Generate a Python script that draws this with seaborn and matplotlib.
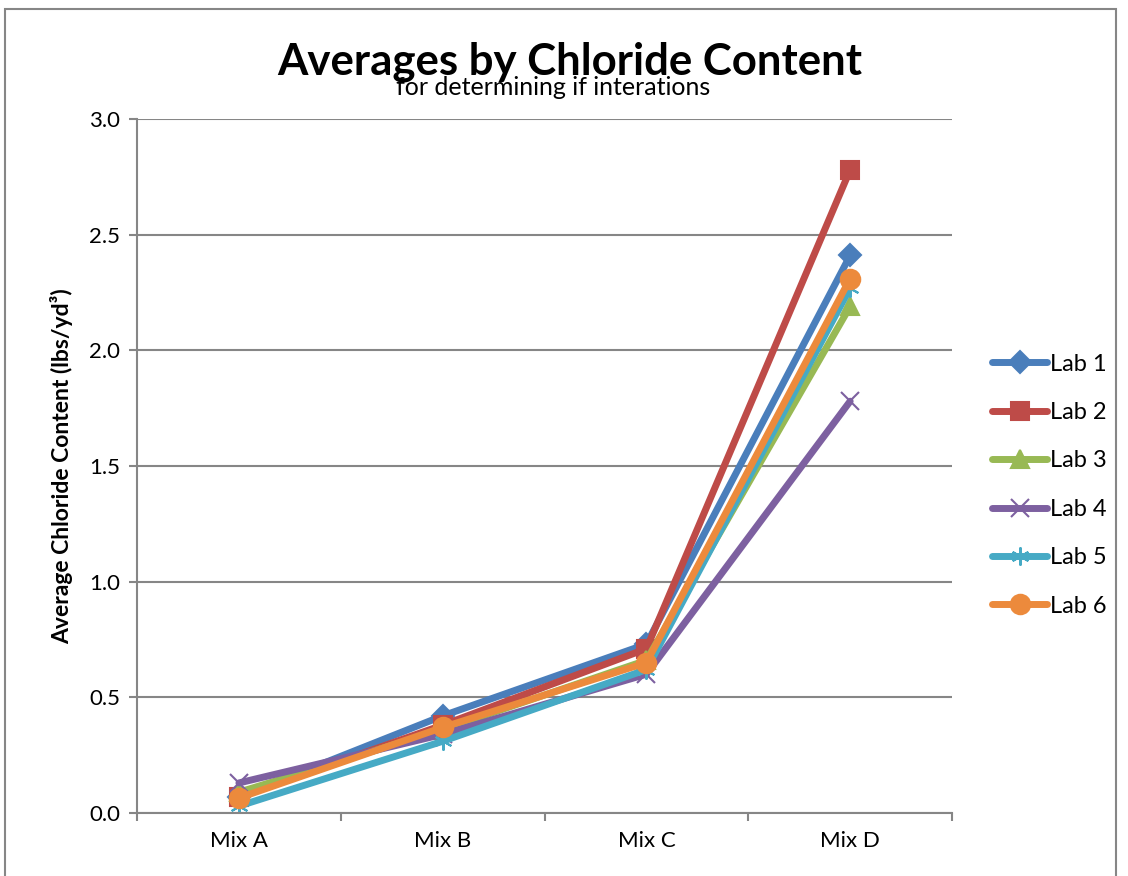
import matplotlib
matplotlib.use("Agg")
import matplotlib.pyplot as plt
from matplotlib.patches import Rectangle
import seaborn as sns
import pandas as pd

# Mix categories and per-lab average chloride content (lbs/yd³)
mixes = ["Mix A", "Mix B", "Mix C", "Mix D"]
labs = ["Lab 1", "Lab 2", "Lab 3", "Lab 4", "Lab 5", "Lab 6"]
lab1 = [0.07, 0.42, 0.73, 2.41]
lab2 = [0.07, 0.38, 0.71, 2.78]
lab3 = [0.09, 0.36, 0.66, 2.19]
lab4 = [0.13, 0.34, 0.60, 1.78]
lab5 = [0.03, 0.31, 0.62, 2.27]
lab6 = [0.065, 0.37, 0.65, 2.31]
yticks = [0.0, 0.5, 1.0, 1.5, 2.0, 2.5, 3.0]

series = [lab1, lab2, lab3, lab4, lab5, lab6]
df = pd.DataFrame(
    [(lab, mix, v) for lab, vals in zip(labs, series) for mix, v in zip(mixes, vals)],
    columns=["Lab", "Mix", "Chloride"],
)

colors = ["#4A7EBB", "#BE4B48", "#98B954", "#7D60A0", "#46AAC5", "#EC8A3C"]
markers = ["D", "s", "^", "x", (6, 2, 0), "o"]
msizes = [11, 13, 13, 13, 13, 14]

sns.set_theme(style="white")
plt.rcParams["font.family"] = ["Lato", "DejaVu Sans"]
plt.rcParams.update({"text.color": "black", "axes.labelcolor": "black",
                     "xtick.color": "black", "ytick.color": "black"})

fig = plt.figure(figsize=(11.28, 8.76), dpi=100)
ax = fig.add_axes([0.1215, 0.0719, 0.7225, 0.7923])

# one call per lab so filled and line-art markers can coexist
for lab, c, m, ms in zip(labs, colors, markers, msizes):
    sns.lineplot(
        data=df[df["Lab"] == lab], x="Mix", y="Chloride",
        color=c, marker=m, markersize=ms, markeredgewidth=1.5,
        markeredgecolor=c, linewidth=5, sort=False, ax=ax, label=lab,
        solid_capstyle="round",
    )

ax.set_xlim(-0.5, 3.5)
ax.set_ylim(0, 3.0)
ax.set_yticks(yticks)
ax.set_yticklabels([f"{t:.1f}" for t in yticks], fontsize=16)
ax.set_xticks(range(len(mixes)))
ax.set_xticklabels(mixes, fontsize=16)
ax.set_xticks([-0.5, 0.5, 1.5, 2.5, 3.5], minor=True)
ax.tick_params(axis="x", which="major", length=0, pad=13)
ax.tick_params(axis="x", which="minor", length=6, width=1.5, color="#868686", direction="out", bottom=True)
ax.tick_params(axis="y", length=6, width=1.5, color="#868686", labelcolor="black",
               direction="out", left=True, pad=6)

ax.grid(axis="y", color="#868686", linewidth=1.5)
ax.set_axisbelow(True)
for side in ["top", "right"]:
    ax.spines[side].set_visible(False)
for side in ["left", "bottom"]:
    ax.spines[side].set_color("#868686")
    ax.spines[side].set_linewidth(1.5)

ax.set_xlabel("")
ax.set_ylabel("Average Chloride Content (lbs/yd³)", fontsize=16.5, fontweight="bold", labelpad=12)

handles, lbls = ax.get_legend_handles_labels()
ax.legend_.remove()
fig.legend(
    handles, lbls, loc="upper left", bbox_to_anchor=(0.8715, 0.607),
    frameon=False, fontsize=17, labelspacing=1.16, handlelength=2.3,
    handletextpad=0.15, borderaxespad=0,
)

fig.text(0.505, 0.9155, "Averages by Chloride Content", ha="center", va="baseline",
         fontsize=31.5, fontweight="bold")
fig.text(0.49, 0.891, "for determining if interations", ha="center", va="baseline",
         fontsize=18)

# chart frame
fig.patches.append(Rectangle((0.004, -0.01), 0.985, 1.0, transform=fig.transFigure,
                             fill=False, edgecolor="#868686", linewidth=1.5))

fig.savefig("out.png", dpi=100)
